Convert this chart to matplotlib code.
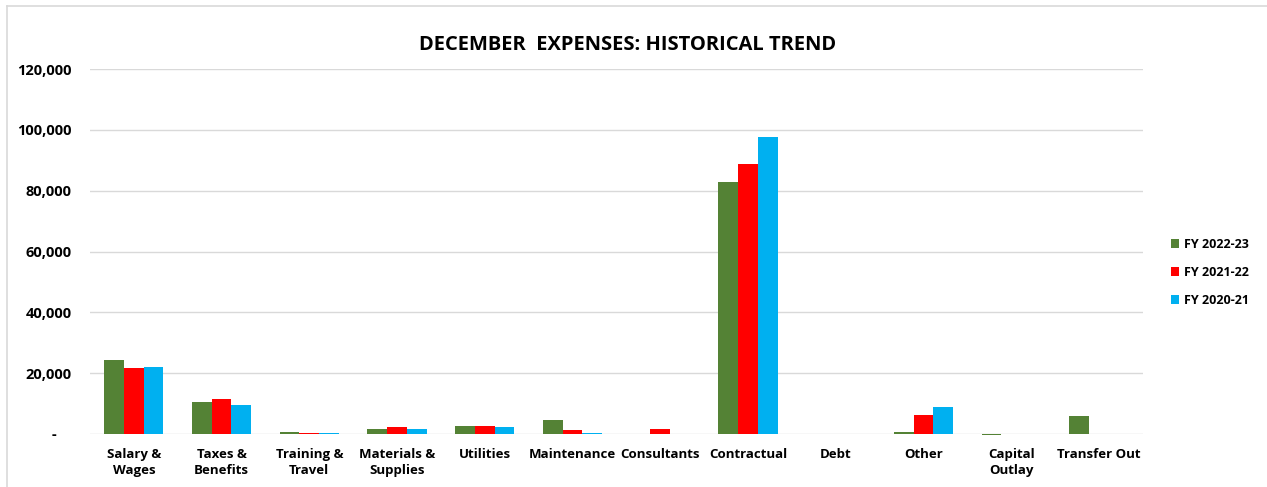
import matplotlib.pyplot as plt
import numpy as np
from matplotlib.lines import Line2D
from matplotlib.ticker import FuncFormatter

plt.rcParams['font.family'] = ['Open Sans', 'DejaVu Sans']
plt.rcParams['font.weight'] = 'bold'

categories = ['Salary &\nWages', 'Taxes &\nBenefits', 'Training &\nTravel', 'Materials &\nSupplies',
              'Utilities', 'Maintenance', 'Consultants', 'Contractual', 'Debt', 'Other',
              'Capital\nOutlay', 'Transfer Out']
fy_2022_23 = [24200, 10400, 500, 1600, 2600, 4600, 0, 82900, 0, 600, -400, 5800]
fy_2021_22 = [21700, 11400, 400, 2200, 2600, 1300, 1500, 88800, 0, 6100, 0, 0]
fy_2020_21 = [21900, 9500, 300, 1600, 2200, 200, 0, 97600, 0, 8900, 0, 0]
series_names = ['FY 2022-23', 'FY 2021-22', 'FY 2020-21']
colors = ['#548235', '#FF0000', '#00B0F0']

fig = plt.figure(figsize=(12.67, 4.87), dpi=100)
ax = fig.add_axes([0.071, 0.109, 0.831, 0.749])

x = np.arange(len(categories))
w = 0.225
for i, (vals, name, c) in enumerate(zip([fy_2022_23, fy_2021_22, fy_2020_21], series_names, colors)):
    ax.bar(x + (i - 1) * w, vals, width=w, color=c, label=name, zorder=3, clip_on=False)

ax.set_xlim(-0.5, len(categories) - 0.5)
ax.set_ylim(0, 120000)
ax.set_yticks(np.arange(0, 120001, 20000))
ax.yaxis.set_major_formatter(FuncFormatter(lambda v, p: '-    ' if v == 0 else f'{int(v):,}'))
ax.set_xticks(x)
ax.set_xticklabels(categories, fontsize=9.5, fontweight='bold', linespacing=1.3)
ax.tick_params(axis='x', length=0, labelsize=9.5, pad=10)
ax.tick_params(axis='y', length=0, labelsize=10.5, pad=13)
for lbl in ax.get_yticklabels():
    lbl.set_fontweight('bold')
ax.grid(axis='y', color='#d9d9d9', linewidth=1, zorder=0)
for s in ax.spines.values():
    s.set_visible(False)

fig.text(0.495, 0.908, 'DECEMBER  EXPENSES: HISTORICAL TREND', ha='center', va='center',
         fontsize=14.5, fontweight='bold')

leg = fig.legend(loc='center left', bbox_to_anchor=(0.915, 0.44), frameon=False,
                 handlelength=0.7, handleheight=0.7, handletextpad=0.4, labelspacing=1.2,
                 prop={'weight': 'bold', 'size': 9})

# outer chart border
fig.add_artist(Line2D([7 / 1267, 1], [1 - 6 / 487] * 2, color='#d9d9d9', lw=1.2))
fig.add_artist(Line2D([7 / 1267] * 2, [0, 1 - 6 / 487], color='#d9d9d9', lw=1.2))

fig.savefig('out.png', dpi=100)
